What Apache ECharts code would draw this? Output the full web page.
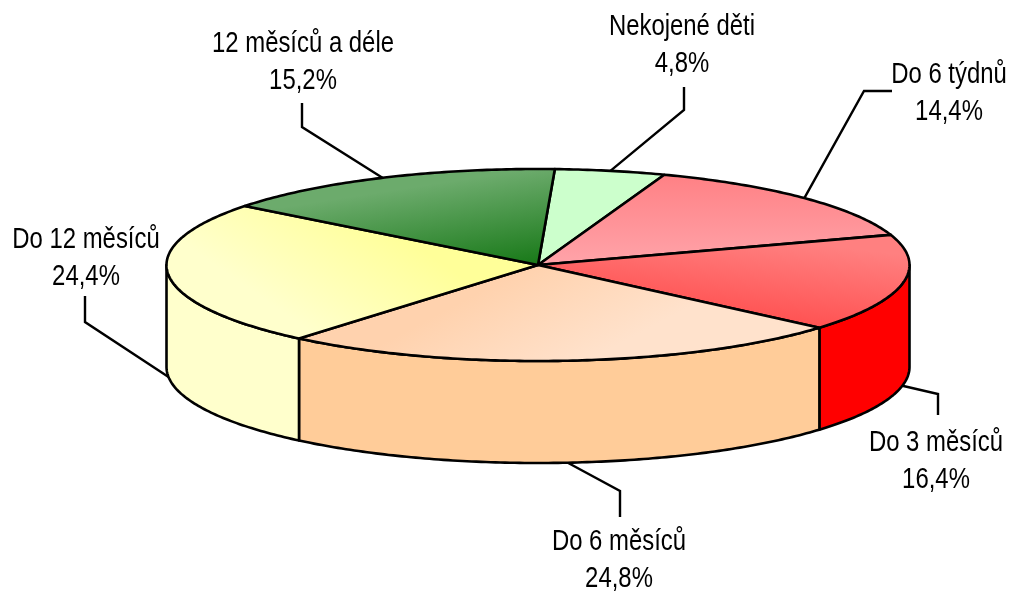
<!DOCTYPE html>
<html><head><meta charset="utf-8">
<style>html,body{margin:0;padding:0;background:#fff}#c{width:1013px;height:591px}</style>
<script src="https://cdn.jsdelivr.net/npm/echarts@6/dist/echarts.min.js"></script>
</head><body><div id="c"></div>
<script>
const categories = ['Nekojené děti','Do 6 týdnů','Do 3 měsíců','Do 6 měsíců','Do 12 měsíců','12 měsíců a déle'];
const values = [4.8,14.4,16.4,24.8,24.4,15.2];
const valueLabels = ['4,8%','14,4%','16,4%','24,8%','24,4%','15,2%'];
const sideColors = ['#ccffcc','#ff9999','#ff0000','#ffcc99','#ffffcc','#2e8b2e'];
const topFrom = ['#ccffcc','#ff8084','#ff8080','#ffd2ae','#ffff99','#6cab6c'];
const topTo = ['#ccffcc','#ffa4aa','#ff4a4a','#ffe2cc','#ffffcc','#1a7a1a'];
const gradDir = [[0,0,0,1],[0.5,0,0.5,1],[0.5,0,0.47,1],[0.45,0,0.55,1],[0.62,0.2,0.42,1],[0.91,0.02,0.955,0.95]];
const labelPos = [[682,45],[949,93],[936,461],[619,560],[86,258],[303,62]];
const elbows = [[[684,87],[684,110]],[[892,91],[864,91]],[[938,415],[938,394]],[[620,517],[620,491]],[[85,296],[85,322]],[[302,103],[302,127]]];

const CX=538, CY=265, RX=371.5, RY=96, DEPTH=102, START=2.6;
const total = values.reduce((a,b)=>a+b,0);
const rad = d=>d*Math.PI/180;
const pt = (deg,dy)=>[CX+RX*Math.sin(rad(deg)), CY-RY*Math.cos(rad(deg))+(dy||0)];
function span(i){
  let s=START; for(let k=0;k<i;k++) s+=values[k]/total*360;
  return [s,s+values[i]/total*360];
}
function arc(a,b,dy){
  const n=Math.max(2,Math.ceil(Math.abs(b-a)/0.75)), out=[];
  for(let k=0;k<=n;k++) out.push(pt(a+(b-a)*k/n,dy));
  return out;
}
const line={stroke:'#000',lineWidth:2.6,lineJoin:'round'};
const chart=echarts.init(document.getElementById('c'),null,{renderer:'canvas'});
const rows=categories.map((c,i)=>[i,values[i]]);
function leader(p,api){
  const i=api.value(0), [a,b]=span(i), m=(a+b)/2;
  const onFront = Math.cos(rad(m))<0;
  const end=pt(m,onFront?DEPTH:0);
  const e=elbows[i];
  return {type:'group',children:[
    {type:'polyline',shape:{points:[e[0],e[1],end]},style:{stroke:'#000',lineWidth:2.4,fill:null}},
    {type:'text',x:labelPos[i][0],y:labelPos[i][1],scaleX:0.824,scaleY:1,
      style:{text:categories[i]+'\n'+valueLabels[i],x:0,y:0,
      align:'center',verticalAlign:'middle',font:'29px "Liberation Sans"',lineHeight:37,fill:'#000'}}
  ]};
}
function wall(p,api){
  const i=api.value(0), [a,b]=span(i);
  const lo=Math.max(a,90), hi=Math.min(b,270);
  if(hi<=lo) return {type:'group',children:[]};
  const pts=arc(lo,hi,0).concat(arc(hi,lo,DEPTH));
  return {type:'polygon',shape:{points:pts},style:Object.assign({fill:sideColors[i]},line)};
}
function face(p,api){
  const i=api.value(0), [a,b]=span(i), g=gradDir[i];
  const pts=[[CX,CY]].concat(arc(a,b,0));
  return {type:'polygon',shape:{points:pts},style:Object.assign({
    fill:new echarts.graphic.LinearGradient(g[0],g[1],g[2],g[3],[{offset:0,color:topFrom[i]},{offset:1,color:topTo[i]}])
  },line)};
}
chart.setOption({
  animation:false,
  backgroundColor:'#fff',
  series:[
    {type:'custom',coordinateSystem:'none',z:1,data:rows,renderItem:leader,silent:true},
    {type:'custom',coordinateSystem:'none',z:2,data:rows,renderItem:wall,silent:true},
    {type:'custom',coordinateSystem:'none',z:3,data:rows,renderItem:face,silent:true}
  ]
});
</script></body></html>
